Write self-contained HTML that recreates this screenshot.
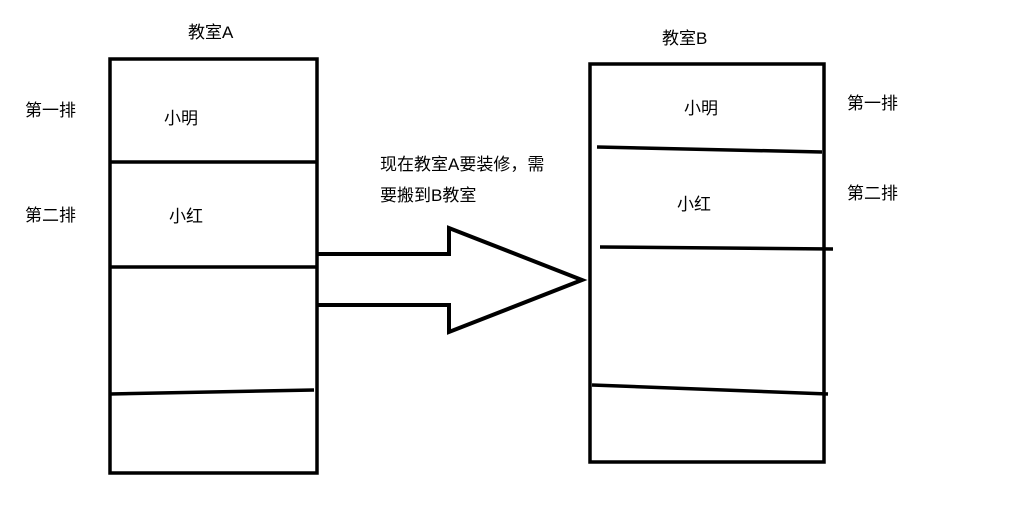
<!DOCTYPE html>
<html><head><meta charset="utf-8"><style>
html,body{margin:0;padding:0;background:#fff;}
svg{display:block;}
text{font-family:"Liberation Sans","Noto Sans CJK SC",sans-serif;font-size:17px;fill:#000;}
</style></head><body>
<svg width="1011" height="532" viewBox="0 0 1011 532" xmlns="http://www.w3.org/2000/svg">
<g fill="none" stroke="#000" stroke-width="3.5">
<rect x="110" y="59" width="207" height="414"/>
<line x1="110" y1="162" x2="317" y2="162"/>
<line x1="110" y1="267" x2="317" y2="267"/>
<line x1="110" y1="394" x2="314" y2="390"/>
<rect x="590" y="64" width="234" height="398"/>
<line x1="597" y1="147" x2="822" y2="152"/>
<line x1="600" y1="247" x2="833" y2="249"/>
<line x1="592" y1="385" x2="828" y2="394"/>
<polyline points="318,254 449,254 449,228 582,280 449,332 449,305 318,305" stroke-width="4" stroke-linejoin="miter"/>
</g>
<text x="188" y="38">教室A</text>
<text x="662" y="44">教室B</text>
<text x="25" y="116">第一排</text>
<text x="25" y="221">第二排</text>
<text x="164" y="124">小明</text>
<text x="169" y="222">小红</text>
<text x="684" y="114">小明</text>
<text x="677" y="210">小红</text>
<text x="847" y="109">第一排</text>
<text x="847" y="199">第二排</text>
<text x="380" y="170">现在教室A要装修，需</text>
<text x="380" y="201">要搬到B教室</text>
</svg>
</body></html>
